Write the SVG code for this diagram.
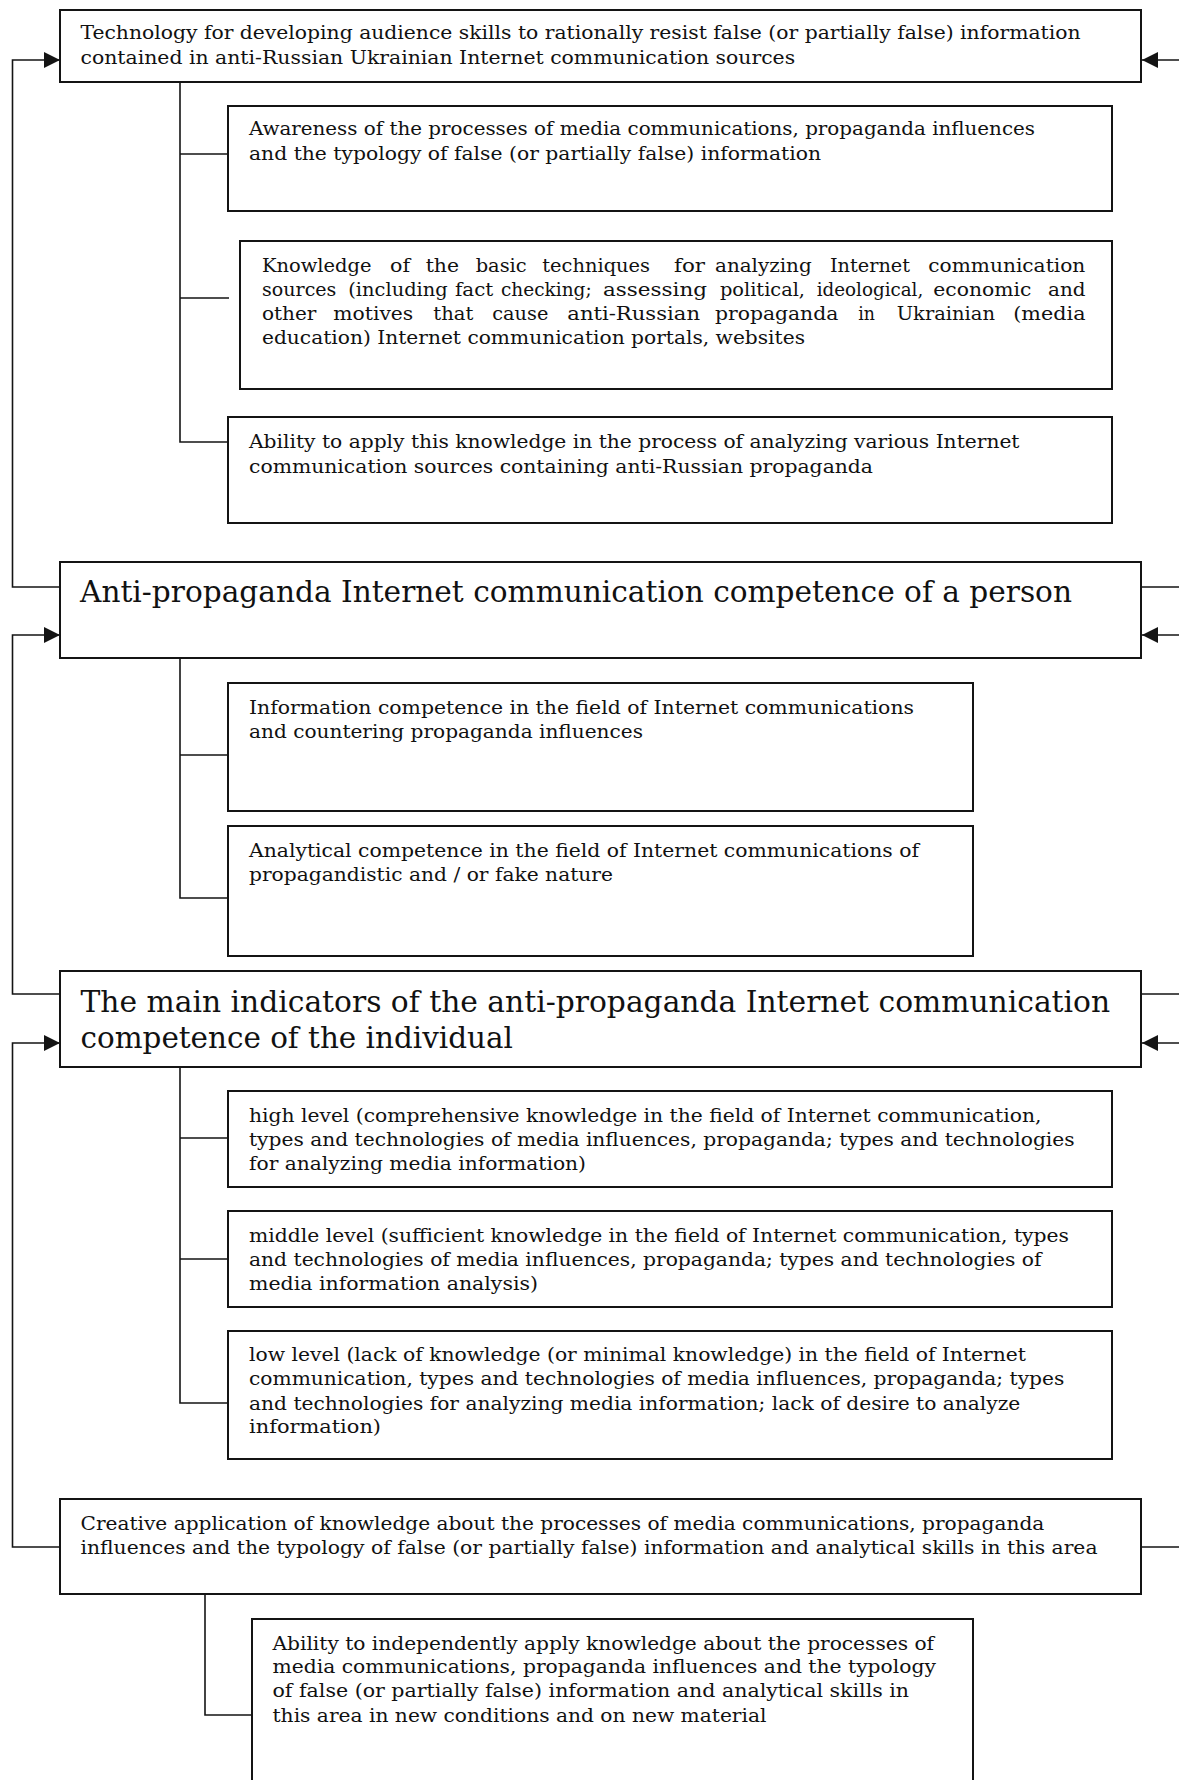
<svg xmlns="http://www.w3.org/2000/svg" width="1179" height="1780" viewBox="0 0 1179 1780">
<style>
.box{fill:#fff;stroke:#141414;stroke-width:2}
.t{font-family:"DejaVu Serif","Liberation Serif",serif;font-size:18px;fill:#111}
.h{font-family:"DejaVu Serif","Liberation Serif",serif;font-size:30px;fill:#111}
.c{fill:none;stroke:#141414;stroke-width:1.6}
</style>
<defs>
<marker id="arr" markerUnits="userSpaceOnUse" markerWidth="16" markerHeight="16" refX="16" refY="8" orient="auto">
<path d="M0,0 L16,8 L0,16 z" fill="#141414"/>
</marker>
</defs>

<g id="connectors">
<path class="c" d="M180,82 V442 H228 M180,154 H228 M180,298 H229"/>
<path class="c" d="M180,658 V898 H228 M180,755 H228"/>
<path class="c" d="M180,1067 V1403 H228 M180,1138 H228 M180,1259 H228"/>
<path class="c" d="M205,1594 V1715 H252"/>
<path class="c" d="M60,587 H12.5 V60 H60" marker-end="url(#arr)"/>
<path class="c" d="M60,994 H12.5 V635 H60" marker-end="url(#arr)"/>
<path class="c" d="M60,1547 H12.5 V1043 H60" marker-end="url(#arr)"/>
<path class="c" d="M1179,60 H1142" marker-end="url(#arr)"/>
<path class="c" d="M1179,635 H1142" marker-end="url(#arr)"/>
<path class="c" d="M1179,1043 H1142" marker-end="url(#arr)"/>
<path class="c" d="M1141,587 H1179 M1141,994 H1179 M1141,1547 H1179"/>
</g>

<g id="node-technology">
<rect class="box" x="60" y="10" width="1081" height="72"/>
<text class="t" x="80.5" y="39" textLength="1000" lengthAdjust="spacingAndGlyphs">Technology for developing audience skills to rationally resist false (or partially false) information</text>
<text class="t" x="80.5" y="64" textLength="714.6" lengthAdjust="spacingAndGlyphs">contained in anti-Russian Ukrainian Internet communication sources</text>
</g>

<g id="node-awareness">
<rect class="box" x="228" y="106" width="884" height="105"/>
<text class="t" x="249" y="135" textLength="786" lengthAdjust="spacingAndGlyphs">Awareness of the processes of media communications, propaganda influences</text>
<text class="t" x="249" y="159.5" textLength="572" lengthAdjust="spacingAndGlyphs">and the typology of false (or partially false) information</text>
</g>

<g id="node-knowledge">
<rect class="box" x="240" y="241" width="872" height="148"/>
<text class="t" y="272"><tspan x="262" textLength="109.4" lengthAdjust="spacingAndGlyphs">Knowledge</tspan> <tspan x="390" textLength="20" lengthAdjust="spacingAndGlyphs">of</tspan> <tspan x="425.7" textLength="33.3" lengthAdjust="spacingAndGlyphs">the</tspan> <tspan x="475.7" textLength="51" lengthAdjust="spacingAndGlyphs">basic</tspan> <tspan x="542.3" textLength="107.7" lengthAdjust="spacingAndGlyphs">techniques</tspan> <tspan x="674" textLength="31" lengthAdjust="spacingAndGlyphs">for</tspan> <tspan x="715" textLength="96.7" lengthAdjust="spacingAndGlyphs">analyzing</tspan> <tspan x="830" textLength="80" lengthAdjust="spacingAndGlyphs">Internet</tspan> <tspan x="928.3" textLength="157" lengthAdjust="spacingAndGlyphs">communication</tspan></text>
<text class="t" y="296"><tspan x="262" textLength="74.4" lengthAdjust="spacingAndGlyphs">sources</tspan> <tspan x="348.3" textLength="99.4" lengthAdjust="spacingAndGlyphs">(including</tspan> <tspan x="455" textLength="38.3" lengthAdjust="spacingAndGlyphs">fact</tspan> <tspan x="501" textLength="90.7" lengthAdjust="spacingAndGlyphs">checking;</tspan> <tspan x="603" textLength="104" lengthAdjust="spacingAndGlyphs">assessing</tspan> <tspan x="720" textLength="85" lengthAdjust="spacingAndGlyphs">political,</tspan> <tspan x="816.7" textLength="106.6" lengthAdjust="spacingAndGlyphs">ideological,</tspan> <tspan x="933.3" textLength="98" lengthAdjust="spacingAndGlyphs">economic</tspan> <tspan x="1048" textLength="37.5" lengthAdjust="spacingAndGlyphs">and</tspan></text>
<text class="t" y="320"><tspan x="262" textLength="54.4" lengthAdjust="spacingAndGlyphs">other</tspan> <tspan x="333.3" textLength="80" lengthAdjust="spacingAndGlyphs">motives</tspan> <tspan x="433.3" textLength="40" lengthAdjust="spacingAndGlyphs">that</tspan> <tspan x="492.3" textLength="56" lengthAdjust="spacingAndGlyphs">cause</tspan> <tspan x="567.3" textLength="132.7" lengthAdjust="spacingAndGlyphs">anti-Russian</tspan> <tspan x="715" textLength="123.3" lengthAdjust="spacingAndGlyphs">propaganda</tspan> <tspan x="858.3" textLength="16.7" lengthAdjust="spacingAndGlyphs">in</tspan> <tspan x="896.7" textLength="98.3" lengthAdjust="spacingAndGlyphs">Ukrainian</tspan> <tspan x="1013.3" textLength="72.2" lengthAdjust="spacingAndGlyphs">(media</tspan></text>
<text class="t" x="262" y="344" textLength="543" lengthAdjust="spacingAndGlyphs">education) Internet communication portals, websites</text>
</g>

<g id="node-ability">
<rect class="box" x="228" y="417" width="884" height="106"/>
<text class="t" x="249" y="448" textLength="770.5" lengthAdjust="spacingAndGlyphs">Ability to apply this knowledge in the process of analyzing various Internet</text>
<text class="t" x="249" y="472.5" textLength="624" lengthAdjust="spacingAndGlyphs">communication sources containing anti-Russian propaganda</text>
</g>

<g id="node-competence">
<rect class="box" x="60" y="562" width="1081" height="96"/>
<text class="h" x="80" y="602" textLength="992" lengthAdjust="spacingAndGlyphs">Anti-propaganda Internet communication competence of a person</text>
</g>

<g id="node-information">
<rect class="box" x="228" y="683" width="745" height="128"/>
<text class="t" x="249" y="713.5" textLength="665" lengthAdjust="spacingAndGlyphs">Information competence in the field of Internet communications</text>
<text class="t" x="249" y="737.5" textLength="394" lengthAdjust="spacingAndGlyphs">and countering propaganda influences</text>
</g>

<g id="node-analytical">
<rect class="box" x="228" y="826" width="745" height="130"/>
<text class="t" x="249" y="857" textLength="670" lengthAdjust="spacingAndGlyphs">Analytical competence in the field of Internet communications of</text>
<text class="t" x="249" y="881" textLength="364" lengthAdjust="spacingAndGlyphs">propagandistic and / or fake nature</text>
</g>

<g id="node-indicators">
<rect class="box" x="60" y="971" width="1081" height="96"/>
<text class="h" x="80.5" y="1012" textLength="1029.6" lengthAdjust="spacingAndGlyphs">The main indicators of the anti-propaganda Internet communication</text>
<text class="h" x="80.5" y="1047.5" textLength="432.4" lengthAdjust="spacingAndGlyphs">competence of the individual</text>
</g>

<g id="node-high">
<rect class="box" x="228" y="1091" width="884" height="96"/>
<text class="t" x="249" y="1122" textLength="792.4" lengthAdjust="spacingAndGlyphs">high level (comprehensive knowledge in the field of Internet communication,</text>
<text class="t" x="249" y="1145.5" textLength="825.6" lengthAdjust="spacingAndGlyphs">types and technologies of media influences,  propaganda; types and technologies</text>
<text class="t" x="249" y="1169.5" textLength="337" lengthAdjust="spacingAndGlyphs">for analyzing media information)</text>
</g>

<g id="node-middle">
<rect class="box" x="228" y="1211" width="884" height="96"/>
<text class="t" x="249" y="1242" textLength="820" lengthAdjust="spacingAndGlyphs">middle level (sufficient knowledge in the field of Internet communication, types</text>
<text class="t" x="249" y="1265.5" textLength="792.4" lengthAdjust="spacingAndGlyphs">and technologies of media influences,  propaganda; types and technologies of</text>
<text class="t" x="249" y="1289.5" textLength="289" lengthAdjust="spacingAndGlyphs">media information analysis)</text>
</g>

<g id="node-low">
<rect class="box" x="228" y="1331" width="884" height="128"/>
<text class="t" x="249" y="1361" textLength="777" lengthAdjust="spacingAndGlyphs">low level (lack of knowledge (or minimal knowledge) in the field of Internet</text>
<text class="t" x="249" y="1385" textLength="815.3" lengthAdjust="spacingAndGlyphs">communication, types and technologies of media influences, propaganda; types</text>
<text class="t" x="249" y="1409.5" textLength="771.3" lengthAdjust="spacingAndGlyphs">and technologies for analyzing media information; lack of desire to analyze</text>
<text class="t" x="249" y="1433" textLength="132" lengthAdjust="spacingAndGlyphs">information)</text>
</g>

<g id="node-creative">
<rect class="box" x="60" y="1499" width="1081" height="95"/>
<text class="t" x="80.5" y="1529.5" textLength="963.8" lengthAdjust="spacingAndGlyphs">Creative application of knowledge about the processes of media communications, propaganda</text>
<text class="t" x="80.5" y="1554" textLength="1017" lengthAdjust="spacingAndGlyphs">influences and the typology of false (or partially false) information and analytical skills in this area</text>
</g>

<g id="node-independent">
<rect class="box" x="252" y="1619" width="721" height="200"/>
<text class="t" x="272.5" y="1649.5" textLength="661.5" lengthAdjust="spacingAndGlyphs">Ability to independently apply knowledge about the processes of</text>
<text class="t" x="272.5" y="1673" textLength="663.4" lengthAdjust="spacingAndGlyphs">media communications, propaganda influences and the typology</text>
<text class="t" x="272.5" y="1697" textLength="636.6" lengthAdjust="spacingAndGlyphs">of false (or partially false) information and analytical  skills in</text>
<text class="t" x="272.5" y="1722" textLength="494" lengthAdjust="spacingAndGlyphs">this area in new conditions and on new material</text>
</g>
</svg>
